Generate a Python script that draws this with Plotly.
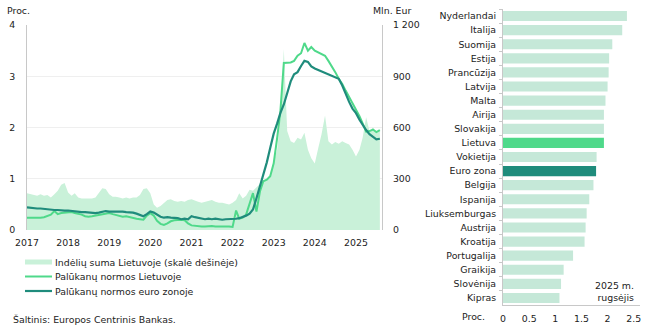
import pandas as pd
import plotly.graph_objects as go

# ---------- data ----------
months = pd.date_range("2017-01-01", "2025-08-01", freq="MS")

rate_lt = [
    0.24, 0.24, 0.23, 0.24, 0.24, 0.25, 0.27, 0.30, 0.37, 0.31, 0.33, 0.34,
    0.34, 0.35, 0.33, 0.32, 0.30, 0.27, 0.26, 0.27, 0.28, 0.29, 0.30, 0.31,
    0.33, 0.31, 0.29, 0.27, 0.26, 0.27, 0.25, 0.23, 0.22, 0.21, 0.20, 0.28,
    0.33, 0.28, 0.18, 0.12, 0.10, 0.13, 0.17, 0.19, 0.20, 0.20, 0.19, 0.13,
    0.09, 0.08, 0.08, 0.07, 0.07, 0.08, 0.08, 0.07, 0.07, 0.07, 0.08, 0.07,
    0.06, 0.38, 0.22, 0.24, 0.30, 0.52, 0.72, 0.36, 0.75, 0.95, 0.98, 1.05,
    1.30, 1.80, 2.30, 3.26, 3.27, 3.27, 3.30, 3.40, 3.45, 3.65, 3.50, 3.57,
    3.50, 3.47, 3.43, 3.40, 3.30, 3.20, 3.08, 2.95, 2.85, 2.72, 2.60, 2.47,
    2.36, 2.22, 2.08, 1.92, 1.93, 1.96, 1.91, 1.95,
]

rate_ez = [
    0.44, 0.43, 0.43, 0.42, 0.42, 0.41, 0.40, 0.40, 0.39, 0.39, 0.38, 0.38,
    0.38, 0.37, 0.37, 0.36, 0.35, 0.35, 0.34, 0.33, 0.33, 0.34, 0.36, 0.37,
    0.36, 0.36, 0.37, 0.36, 0.36, 0.35, 0.35, 0.34, 0.32, 0.30, 0.27, 0.31,
    0.36, 0.34, 0.30, 0.26, 0.24, 0.25, 0.24, 0.24, 0.23, 0.21, 0.22, 0.21,
    0.27, 0.25, 0.24, 0.23, 0.21, 0.22, 0.21, 0.22, 0.21, 0.20, 0.21, 0.21,
    0.22, 0.22, 0.23, 0.25, 0.28, 0.32, 0.40, 0.62, 0.84, 1.08, 1.32, 1.60,
    1.88, 2.08, 2.28, 2.45, 2.68, 2.90, 3.04, 3.08, 3.20, 3.30, 3.28, 3.19,
    3.15, 3.12, 3.09, 3.06, 3.03, 3.00, 2.97, 2.95, 2.82, 2.65, 2.50, 2.37,
    2.28, 2.15, 2.05, 1.95, 1.87, 1.81, 1.77, 1.78,
]

deposits = [
    215, 210, 205, 200, 210, 200, 205, 190, 210, 230, 265, 275,
    220, 200, 215, 190, 185, 185, 185, 185, 190, 220, 245, 240,
    210, 195, 195, 190, 185, 190, 185, 190, 190, 205, 240, 245,
    215, 150, 130, 140, 155, 175, 180, 170, 165, 170, 165, 175,
    180, 170, 165, 160, 165, 170, 175, 165, 160, 160, 155, 150,
    160, 175, 215, 185, 200, 235, 230, 250, 270, 280, 290, 310,
    400, 470, 650, 1060, 580, 520, 510, 540, 530, 570, 470, 420,
    390, 480, 560, 670, 520, 500, 515, 505, 520, 510, 500, 470,
    430, 470, 540, 660, 580, 600, 570, 580,
]

countries = [
    "Nyderlandai", "Italija", "Suomija", "Estija", "Prancūzija", "Latvija",
    "Malta", "Airija", "Slovakija", "Lietuva", "Vokietija", "Euro zona",
    "Belgija", "Ispanija", "Liuksemburgas", "Austrija", "Kroatija",
    "Portugalija", "Graikija", "Slovėnija", "Kipras",
]
country_rates = [
    2.37, 2.28, 2.09, 2.03, 2.02, 2.00, 1.96, 1.93, 1.93, 1.93, 1.79, 1.78,
    1.73, 1.65, 1.60, 1.58, 1.56, 1.34, 1.16, 1.11, 1.08,
]

legend_names = [
    "Indėlių suma Lietuvoje (skalė dešinėje)",
    "Palūkanų normos Lietuvoje",
    "Palūkanų normos euro zonoje",
]

# ---------- styling ----------
FONT = "DejaVu Sans"
FS = 9.4
TXT = "#222222"
C_AREA = "#c9f1d9"
C_LT = "#4fd98a"
C_EZ = "#1f8c7c"
C_BAR = "#c5e8d8"
AX = "#c8c8c8"

W, H = 650, 330


def px_x(p):
    return p / W


def px_y(p):
    return 1 - p / H


bar_colors = [C_LT if c == "Lietuva" else (C_EZ if c == "Euro zona" else C_BAR) for c in countries]

fig = go.Figure()

# deposits on base axis (right side), rates on overlaying axis so lines draw on top
fig.add_trace(go.Scatter(
    x=months, y=deposits, name=legend_names[0], xaxis="x", yaxis="y",
    mode="lines", line=dict(width=0, color=C_AREA), fill="tozeroy",
    fillcolor=C_AREA, hoverinfo="skip", showlegend=False,
))
fig.add_trace(go.Scatter(
    x=months, y=rate_lt, name=legend_names[1], xaxis="x", yaxis="y2",
    mode="lines", line=dict(width=2, color=C_LT), showlegend=False,
))
fig.add_trace(go.Scatter(
    x=months, y=rate_ez, name=legend_names[2], xaxis="x", yaxis="y2",
    mode="lines", line=dict(width=2.2, color=C_EZ), showlegend=False,
))

fig.add_trace(go.Bar(
    x=country_rates, y=countries, orientation="h", xaxis="x3", yaxis="y3",
    marker=dict(color=bar_colors, line=dict(width=0)), showlegend=False,
))

# manual legend
leg_rows = [262, 276.5, 291]
leg_colors = [C_AREA, C_LT, C_EZ]
leg_widths = [5, 2, 2.2]
shapes = []
annotations = []
for name, row, col, lw in zip(legend_names, leg_rows, leg_colors, leg_widths):
    shapes.append(dict(type="line", xref="paper", yref="paper",
                       x0=px_x(25), x1=px_x(52), y0=px_y(row), y1=px_y(row),
                       line=dict(color=col, width=lw)))
    annotations.append(dict(text=name, x=px_x(53), y=px_y(row), xref="paper",
                            yref="paper", xanchor="left", yanchor="middle",
                            showarrow=False))

annotations += [
    dict(text="Proc.", x=px_x(5), y=px_y(11), xref="paper", yref="paper",
         xanchor="left", yanchor="middle", showarrow=False),
    dict(text="Mln. Eur", x=px_x(413), y=px_y(11), xref="paper", yref="paper",
         xanchor="right", yanchor="middle", showarrow=False),
    dict(text="Šaltinis: Europos Centrinis Bankas.", x=px_x(11), y=px_y(319),
         xref="paper", yref="paper", xanchor="left", yanchor="middle",
         showarrow=False),
    dict(text="Proc.", x=px_x(487), y=px_y(316), xref="paper", yref="paper",
         xanchor="right", yanchor="middle", showarrow=False),
    dict(text="2025 m.<br>rugsėjis", x=px_x(636), y=px_y(291), xref="paper",
         yref="paper", xanchor="right", yanchor="middle", align="right",
         showarrow=False),
]

fig.update_layout(
    width=W, height=H,
    margin=dict(l=0, r=0, t=0, b=0, autoexpand=False),
    paper_bgcolor="white", plot_bgcolor="white",
    font=dict(family=FONT, size=FS, color=TXT),
    separators=". ",
    bargap=0.28,
    showlegend=False,
    xaxis=dict(
        domain=[px_x(27), px_x(382)],
        type="date",
        range=["2017-01-01", "2025-08-20"],
        tickvals=pd.date_range("2017-01-01", "2025-01-01", freq="YS"),
        tickformat="%Y", ticks="", showgrid=False,
        showline=False, zeroline=False, anchor="y",
        ticklabelstandoff=6, automargin=False,
    ),
    yaxis=dict(
        domain=[px_y(230), px_y(25)],
        side="right", anchor="x",
        range=[0, 1200], tickvals=[0, 300, 600, 900, 1200],
        tickformat=",d",
        showgrid=True, gridcolor="#efefef", gridwidth=1,
        showline=True, linecolor=AX, linewidth=1,
        zeroline=False, ticks="", ticklabelstandoff=8, automargin=False,
    ),
    yaxis2=dict(
        overlaying="y", side="left", anchor="x",
        range=[0, 4], dtick=1, tickformat="d",
        showgrid=False,
        showline=True, linecolor=AX, linewidth=1,
        zeroline=False, ticks="", ticklabelstandoff=9, automargin=False,
    ),
    xaxis3=dict(
        domain=[px_x(503), px_x(640)],
        range=[0, 2.62], tickvals=[0, 0.5, 1, 1.5, 2, 2.5],
        showgrid=False, zeroline=False,
        showline=True, linecolor=AX, linewidth=1,
        ticks="", anchor="y3", automargin=False, ticklabelstandoff=5,
    ),
    yaxis3=dict(
        domain=[px_y(305), px_y(9)],
        range=[20.5, -0.5],
        showline=True, linecolor=AX, linewidth=1,
        ticks="outside", ticklen=3, tickcolor=AX, tickson="boundaries",
        showgrid=False, anchor="x3", automargin=False, ticklabelstandoff=4,
    ),
    shapes=shapes,
    annotations=annotations,
)

fig.write_html("out.html")
